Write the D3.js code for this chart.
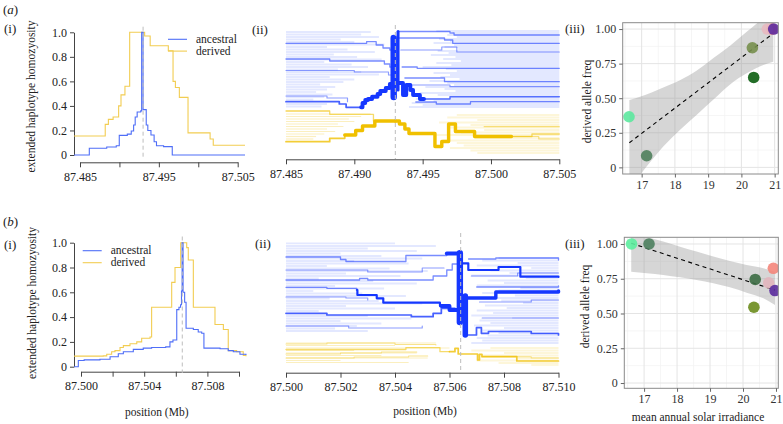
<!DOCTYPE html>
<html><head><meta charset="utf-8">
<script src="https://cdn.jsdelivr.net/npm/d3@7"></script>
<style>
body{margin:0;background:#fff}
svg{display:block}
svg text{font-family:"Liberation Serif","Times New Roman",serif !important}
</style></head><body>
<svg id="c" width="783" height="424"></svg>
<script>
// ================= DATA =================
// (i) EHH curves: [position (Mb), EHH]
const aAncestral = [[87.48424,0],[87.48618,0.055],[87.48839,0.065],[87.48960,0.075],[87.48998,0.16],[87.49100,0.17],[87.49150,0.195],[87.49180,0.245],[87.49200,0.31],[87.49225,0.35],[87.49270,0.36],[87.49282,1.0],[87.49300,0.37],[87.49340,0.245],[87.49360,0.2],[87.49400,0.163],[87.49440,0.108],[87.49470,0.076],[87.49560,0.068],[87.49670,0],[87.50593,0]];
const aDerived = [[87.48424,0.155],[87.48820,0.25],[87.48860,0.29],[87.48920,0.31],[87.48990,0.40],[87.49020,0.49],[87.49070,0.56],[87.49130,1.0],[87.49320,0.97],[87.49390,0.89],[87.49620,0.85],[87.49680,0.60],[87.49710,0.55],[87.49760,0.47],[87.49870,0.18],[87.50150,0.13],[87.50190,0.08],[87.50593,0.08]];
const bAncestral = [[87.49956,0],[87.49983,0.05],[87.50020,0.055],[87.50120,0.06],[87.50184,0.08],[87.50236,0.105],[87.50268,0.12],[87.50331,0.14],[87.50394,0.15],[87.50447,0.155],[87.50536,0.16],[87.50563,0.2],[87.50582,0.215],[87.50606,0.46],[87.50620,0.48],[87.50630,0.5],[87.50636,0.61],[87.50640,1.0],[87.50646,0.6],[87.50656,0.52],[87.50665,0.31],[87.50711,0.3],[87.50742,0.28],[87.50764,0.27],[87.50778,0.15],[87.50880,0.145],[87.50932,0.13],[87.50964,0.12],[87.51006,0.1],[87.51044,0.095]];
const bDerived = [[87.49956,0.085],[87.50141,0.087],[87.50163,0.1],[87.50194,0.12],[87.50215,0.13],[87.50247,0.155],[87.50268,0.17],[87.50310,0.185],[87.50353,0.2],[87.50384,0.23],[87.50437,0.24],[87.50447,0.48],[87.50574,0.68],[87.50595,0.8],[87.50631,1.0],[87.50669,0.96],[87.50679,0.86],[87.50711,0.48],[87.50848,0.34],[87.50901,0.3],[87.50932,0.13],[87.50985,0.12],[87.51027,0.09],[87.51044,0.085]];
const aCore = 87.4930, bCore = 87.50641;
const aTicks = [87.485,87.490,87.495,87.500,87.505];
const aTickLabelsI = ["87.485","","87.495","","87.505"];
const aTickLabelsII = ["87.485","87.490","87.495","87.500","87.505"];
const bTicks = [87.500,87.502,87.504,87.506,87.508,87.510];
const bTickLabelsI = ["87.500","","87.504","","87.508",""];
const bTickLabelsII = ["87.500","87.502","87.504","87.506","87.508","87.510"];
const ehhTicks = [0,0.2,0.4,0.6,0.8,1.0];
const legendLabels = ["ancestral","derived"];

// (ii) bifurcation diagrams: haplotype rank (0 top .. 126 bottom), n = haplotypes in branch
const aBlueFaintLeft = [[2,87.4912],[4.5,87.4905],[7,87.4918],[9.5,87.4890],[12,87.4900],[14.5,87.4922],[17,87.4880],[19.5,87.4895],[22,87.4915],[24.5,87.4885],[27,87.4902],[29.5,87.4920],[32,87.4878],[34.5,87.4898],[37,87.4910],[39.5,87.4888],[42,87.4905],[44.5,87.4918],[47,87.4882],[49.5,87.4900],[52,87.4892],[54.5,87.4875],[57,87.4886],[59.5,87.4880],[62,87.4872],[64.5,87.4884],[67,87.4878],[69.5,87.4870],[74,87.4880],[76.5,87.4876]];
const aBlueFaintRight = [[1,87.4960],[3,87.4972],[5,87.4968],[7,87.4975],[9,87.4962],[11,87.4970],[13,87.4958],[15,87.4973],[17,87.4966],[19,87.4976],[21,87.4961],[23,87.4969],[25,87.4956],[27,87.4974],[29,87.4965],[31,87.4978],[33,87.4960],[35,87.4971],[37,87.4950],[39,87.4967],[41,87.4975],[43,87.4958],[45,87.4970],[47,87.4963],[49,87.4977],[51,87.4955],[53,87.4968],[55,87.4973],[57,87.4952],[59,87.4966],[61,87.4974],[63,87.4948],[65,87.4961],[67,87.4970],[69,87.4945],[71,87.4958],[73,87.4942],[75,87.4950],[77,87.4940]];
const aYellowFaintLeft = [[81,87.4882],[84,87.4912],[86.5,87.4905],[89,87.4896],[91.5,87.4900],[94,87.4888],[96.5,87.4892],[99,87.4880],[101.5,87.4886],[104,87.4878],[106.5,87.4872],[109,87.4870]];
const aYellowFaintRight = [[85,87.4975],[87.5,87.4968],[90,87.4990],[92.5,87.4962],[95,87.4985],[97.5,87.4970],[100,87.4995],[102.5,87.4978],[105,87.4960],[108,87.4988],[110.5,87.4965],[113,87.4975],[115.5,87.4980],[118,87.4970],[120.5,87.4985],[123,87.4990]];
const aBlueBranches = [
 {n:2, pts:[[87.4850,13.3],[87.4909,11.7],[87.4916,15],[87.4921,18],[87.4926,20],[87.4930,20]]},
 {n:2, pts:[[87.4850,29],[87.4882,31],[87.4922,34],[87.4926,37],[87.4930,37]]},
 {n:1.6, pts:[[87.4850,40.5],[87.4900,42],[87.4925,45],[87.4930,45]]},
 {n:3, pts:[[87.4850,71.7],[87.4889,74],[87.4894,77.3],[87.4905,77.3]]},
 {n:1.6, pts:[[87.4850,66],[87.4880,68],[87.4895,71.7]]},
 {n:8, pts:[[87.4905,77.3],[87.4906,73],[87.4908,70],[87.4910,69],[87.4913,66.7],[87.4917,64],[87.4919,61],[87.4923,58],[87.4926,54],[87.4929,50],[87.4930,50]]},
 {n:14, pts:[[87.49288,8],[87.49288,67]]},
 {n:6, pts:[[87.4932,1.5],[87.4932,60]]},
 {n:8, pts:[[87.4932,53],[87.49356,65],[87.4938,55],[87.4941,60],[87.4943,65],[87.4948,69],[87.4951,69]]},
 {n:2.5, pts:[[87.4951,69],[87.4970,66.7],[87.5050,66.7]]},
 {n:2, pts:[[87.4932,1.5],[87.4970,3],[87.4973,5],[87.5050,5]]},
 {n:2, pts:[[87.4933,8],[87.4966,10],[87.4972,13.3],[87.5050,13.3]]},
 {n:1.6, pts:[[87.4934,20],[87.4964,17],[87.4975,22],[87.5050,22]]},
 {n:2, pts:[[87.4935,37],[87.4946,38.3],[87.5050,38.3]]},
 {n:2, pts:[[87.4937,48],[87.4966,51.7],[87.5050,51.7]]},
 {n:1.6, pts:[[87.4940,55],[87.4970,56.7],[87.5050,56.7]]},
 {n:2, pts:[[87.4945,72],[87.4960,74],[87.4985,71.7],[87.5050,71.7]]}
];
const aYellowBranches = [
 {n:2, pts:[[87.4850,81],[87.4882,84.3],[87.4914,91]]},
 {n:3, pts:[[87.4850,111.7],[87.4882,108.3],[87.4893,105]]},
 {n:7, pts:[[87.4893,105],[87.4901,100.5],[87.4906,96],[87.4915,91],[87.4930,91]]},
 {n:7, pts:[[87.4930,91],[87.4933,94],[87.4937,99],[87.4940,103.5],[87.4959,116.5],[87.4964,111.5],[87.4969,94],[87.4974,101.5],[87.4988,106.5],[87.5015,106.5]]},
 {n:2, pts:[[87.5015,106.5],[87.5030,104],[87.5050,104]]},
 {n:1.6, pts:[[87.5015,106.5],[87.5035,109],[87.5050,109]]},
 {n:1.6, pts:[[87.4995,96.7],[87.5050,96.7]]}
];
const bBlueFaintLeft = [[3.3,87.5040],[6,87.5055],[8.5,87.5030],[11,87.5048],[13.5,87.5020],[16,87.5035],[18.5,87.5050],[21,87.5025],[23.5,87.5045],[26,87.5015],[28.5,87.5038],[31,87.5052],[33.5,87.5022],[36,87.5042],[38.5,87.5012],[41,87.5032],[43.5,87.5048],[46,87.5018],[48.5,87.5036],[51,87.5010],[53.5,87.5028],[56,87.5044],[58.5,87.5016],[61,87.5034],[63.5,87.5050],[66,87.5022],[68.5,87.5040],[71,87.5012],[76,87.5030],[78.5,87.5046],[81,87.5020],[83.5,87.5035],[86,87.5026],[88.5,87.5018],[91,87.5030]];
const bBlueFaintRight = [[18,87.5078],[20.5,87.5072],[23,87.5085],[25.5,87.5070],[28,87.5090],[30.5,87.5075],[33,87.5082],[35.5,87.5068],[38,87.5088],[40.5,87.5074],[43,87.5080],[45.5,87.5070],[48,87.5086],[50.5,87.5078],[53,87.5072],[55.5,87.5084],[58,87.5069],[60.5,87.5079],[63,87.5087],[65.5,87.5073],[68,87.5081],[70.5,87.5070],[73,87.5076],[75.5,87.5068],[78,87.5083],[80.5,87.5071],[83,87.5075],[85.5,87.5069],[88,87.5080],[90.5,87.5072],[93,87.5078],[95.5,87.5074],[98,87.5070],[100.5,87.5072],[103,87.5068]];
const bYellowFaintLeft = [[103,87.5055],[105.5,87.5040],[108,87.5060],[110.5,87.5025],[113,87.5048],[115.5,87.5035],[118,87.5052],[120.5,87.5020],[122.5,87.5045]];
const bYellowFaintRight = [[108,87.5075],[110.5,87.5068],[113,87.5080],[115.5,87.5072],[118,87.5085],[120.5,87.5070],[123,87.5078],[125,87.5090]];
const bBlueBranches = [
 {n:2, pts:[[87.5000,17],[87.5020,19.5],[87.5022,21.5],[87.5044,15.5],[87.5059,13.5]]},
 {n:8, pts:[[87.5059,13.5],[87.5064,13.5]]},
 {n:2, pts:[[87.5000,40],[87.5027,38.5],[87.5030,40],[87.5054,36],[87.5059,30],[87.5061,24],[87.5064,24]]},
 {n:2, pts:[[87.5000,47.3],[87.5015,48.3],[87.5026,50]]},
 {n:4, pts:[[87.5026,50],[87.50262,55],[87.50333,58.3],[87.50357,62.7],[87.50565,66],[87.5057,66]]},
 {n:8, pts:[[87.5057,66],[87.5060,70],[87.5064,70]]},
 {n:3, pts:[[87.5000,73.3],[87.5015,75],[87.5046,76.7],[87.5054,73.3],[87.5057,68.3],[87.5062,68.3]]},
 {n:1.6, pts:[[87.5000,30],[87.5030,32],[87.5050,28],[87.5058,28]]},
 {n:1.6, pts:[[87.5000,57],[87.5022,58],[87.5030,60]]},
 {n:1.6, pts:[[87.5000,86],[87.5023,88],[87.5050,86]]},
 {n:14, pts:[[87.50638,13.3],[87.50638,82]]},
 {n:12, pts:[[87.50658,56],[87.50658,95]]},
 {n:4, pts:[[87.5065,23.3],[87.50669,30],[87.5078,27],[87.5086,36.7],[87.5100,37]]},
 {n:7, pts:[[87.5066,58],[87.5077,52],[87.5100,51]]},
 {n:3, pts:[[87.5066,95],[87.50699,87.7],[87.50717,93.3],[87.50743,91.5],[87.5090,93.5],[87.5100,95]]},
 {n:2, pts:[[87.5067,19],[87.5077,18],[87.5100,20]]},
 {n:1.6, pts:[[87.5068,36],[87.5085,33],[87.5100,33]]},
 {n:2, pts:[[87.5070,47],[87.5100,46]]},
 {n:1.6, pts:[[87.5071,62],[87.5090,60],[87.5100,60]]},
 {n:1.6, pts:[[87.5072,78],[87.5100,78]]}
];
const bYellowBranches = [
 {n:2, pts:[[87.5000,109.5],[87.5044,107.7],[87.50565,111.7],[87.5060,111.7]]},
 {n:3, pts:[[87.5060,111.7],[87.5062,108.3],[87.50632,114],[87.50703,120],[87.50710,114.3],[87.50719,116.7],[87.50847,121],[87.5100,121]]},
 {n:1.4, pts:[[87.5000,104],[87.5015,103],[87.5040,104.5],[87.5055,105]]},
 {n:1.4, pts:[[87.5000,114],[87.5020,113],[87.5035,112],[87.5048,112]]},
 {n:1.4, pts:[[87.5000,118],[87.5025,117],[87.5045,116],[87.5052,116]]},
 {n:1.4, pts:[[87.5072,116.7],[87.5090,118],[87.5100,118]]}
];

// (iii) derived allele frequency vs mean annual solar irradiance
const solar = [16.62, 17.15, 20.33, 20.37, 20.92, 20.78, 20.97];
const aFreq = [0.366, 0.084, 0.865, 0.65, 1.0, 1.0, 1.0];
const bFreq = [1.0, 1.0, 0.545, 0.745, 0.825, 0.72, 0.665];
const aColors = ["#5ce89e","#4f7f5c","#778f4c","#0b5d10","#f08a7a","#e8b9c0","#5d2ba0"];
const bColors = ["#5cee9e","#4d7f5e","#6b8c1d","#3c6d44","#f4857a","#e2b5bc","#5a2a9c"];
const aBandX  = [16.63, 16.95, 17.65, 18.15, 18.66, 19.16, 19.66, 20.16, 20.66, 20.96];
const aBandHi = [0.487, 0.51, 0.578, 0.63, 0.70, 0.79, 0.88, 0.98, 1.08, 1.14];
const aBandLo = [-0.15, -0.055, 0.15, 0.27, 0.38, 0.49, 0.60, 0.68, 0.74, 0.763];
const aFit = [[16.63,0.178],[20.96,0.969]];
const bBandX  = [16.61, 17.08, 17.58, 18.09, 18.59, 19.10, 19.60, 20.11, 20.62, 20.97];
const bBandHi = [1.07, 1.05, 1.017, 0.98, 0.945, 0.91, 0.878, 0.849, 0.825, 0.80];
const bBandLo = [0.80, 0.79, 0.777, 0.76, 0.741, 0.717, 0.688, 0.65, 0.609, 0.561];
const bFit = [[16.61,1.005],[20.97,0.668]];
const solarTicks = [17,18,19,20,21];
const solarMinor = [16.5,17.5,18.5,19.5,20.5];
const freqTicks = [0,0.25,0.5,0.75,1];
const freqMinor = [0.125,0.375,0.625,0.875];
const freqLabels = ["0","0.25","0.50","0.75","1.00"];

// ================= DRAWING =================
const SERIF = "Liberation Serif, Times New Roman, serif";
const BLUE_I = "#4f6ef7", GOLD_I = "#f2cd52";
const BLUE = "#1537ff", GOLD = "#f0c000";
const svg = d3.select("#c");

function styleAxis(g, size){
  g.attr("font-family", SERIF).attr("font-size", size);
  g.select(".domain").attr("stroke","#444");
  g.selectAll(".tick line").attr("stroke","#444");
  g.selectAll(".tick text").attr("fill","#222");
}
function text(x,y,s,opts={}){
  const t = svg.append("text").attr("x",x).attr("y",y).text(s)
    .attr("font-family",SERIF).attr("font-size",opts.size||12).attr("fill",opts.fill||"#222")
    .attr("text-anchor",opts.anchor||"start");
  if(opts.rotate) t.attr("transform",`rotate(-90,${x},${y})`);
  if(opts.italic) t.attr("font-style","italic");
  return t;
}
function panelLabel(x,y,letter){
  const t = svg.append("text").attr("x",x).attr("y",y).attr("font-family",SERIF).attr("font-size",13).attr("fill","#222");
  t.append("tspan").text("(");
  t.append("tspan").attr("font-style","italic").text(letter);
  t.append("tspan").text(")");
}

// ---------- (i) panels ----------
function ehhPanel(cfg){
  const x = d3.scaleLinear().domain(cfg.xDom).range(cfg.xRange);
  const y = d3.scaleLinear().domain([0,1]).range(cfg.yRange);
  const gx = svg.append("g").attr("transform",`translate(0,${cfg.axisY})`)
    .call(d3.axisBottom(x).tickValues(cfg.ticks).tickFormat((d,i)=>cfg.labels[i]).tickSize(5).tickPadding(5).tickSizeOuter(0));
  styleAxis(gx, 12);
  const gy = svg.append("g").attr("transform",`translate(${cfg.axisX},0)`)
    .call(d3.axisLeft(y).tickValues(ehhTicks).tickFormat(d=>d===0?"0":d.toFixed(1)).tickSize(4).tickPadding(3).tickSizeOuter(0));
  styleAxis(gy, 12);
  const line = d3.line().x(d=>x(d[0])).y(d=>y(d[1])).curve(d3.curveStepAfter);
  svg.append("path").attr("d",line(cfg.der)).attr("fill","none").attr("stroke",GOLD_I).attr("stroke-width",1.1);
  svg.append("path").attr("d",line(cfg.anc)).attr("fill","none").attr("stroke",BLUE_I).attr("stroke-width",1.1);
  svg.append("line").attr("x1",x(cfg.core)).attr("x2",x(cfg.core)).attr("y1",cfg.dashY[0]).attr("y2",cfg.dashY[1])
    .attr("stroke","#bdbdbd").attr("stroke-width",1).attr("stroke-dasharray","4,3");
  // legend
  [BLUE_I, GOLD_I].forEach((c,i)=>{
    const ly = cfg.legY + i*cfg.legGap;
    svg.append("line").attr("x1",cfg.legX).attr("x2",cfg.legX+19).attr("y1",ly).attr("y2",ly).attr("stroke",c).attr("stroke-width",1.1);
    text(cfg.legX+28, ly+3.5, legendLabels[i], {size:11.5});
  });
}
ehhPanel({xDom:[87.485,87.505], xRange:[80,237.7], yRange:[155,32.3], axisY:162.3, axisX:74,
  ticks:aTicks, labels:aTickLabelsI, anc:aAncestral, der:aDerived, core:aCore, dashY:[26.7,158.5],
  legX:168, legY:39.3, legGap:11.8});
ehhPanel({xDom:[87.500,87.510], xRange:[81,239], yRange:[366.7,242.7], axisY:371.7, axisX:74,
  ticks:bTicks, labels:bTickLabelsI, anc:bAncestral, der:bDerived, core:bCore, dashY:[236.5,373],
  legX:82.7, legY:250.7, legGap:12});

// ---------- (ii) bifurcation panels ----------
const wScale = d3.scaleLinear().domain([1,14]).range([0.9,6.4]);
const oScale = d3.scaleLinear().domain([1.4,4]).range([0.45,1]).clamp(true);
function bifPanel(cfg){
  const x = d3.scaleLinear().domain(cfg.xDom).range(cfg.xRange);
  const y = d3.scaleLinear().domain([0,126]).range(cfg.yRange);
  const g = svg.append("g");
  const faint = (arr, side, color, op, w) => {
    g.selectAll(null).data(arr).join("line")
      .attr("x1", d=> side==="L" ? x(cfg.xDom[0]) : x(d[1]))
      .attr("x2", d=> side==="L" ? x(d[1]) : x(cfg.xDom[1]))
      .attr("y1", d=>y(d[0])).attr("y2", d=>y(d[0]))
      .attr("stroke",color).attr("stroke-width",w).attr("stroke-opacity",op);
  };
  faint(cfg.blueFL,"L","#3a5cff",0.14,1.8);
  faint(cfg.blueFR,"R","#3a5cff",0.14,1.8);
  faint(cfg.yelFL,"L",GOLD,0.25,1.2);
  faint(cfg.yelFR,"R",GOLD,0.15,1.8);
  const line = d3.line().x(d=>x(d[0])).y(d=>y(d[1])).curve(d3.curveStepAfter);
  const draw = (arr, color) => {
    const sorted = arr.slice().sort((a,b)=>a.n-b.n);
    g.selectAll(null).data(sorted).join("path")
      .attr("d", d=>line(d.pts)).attr("fill","none").attr("stroke",color)
      .attr("stroke-width", d=>wScale(d.n)).attr("stroke-opacity", d=>oScale(d.n))
      .attr("stroke-linecap","round").attr("stroke-linejoin","round");
  };
  draw(cfg.yelB, GOLD);
  draw(cfg.blueB, BLUE);
  svg.append("line").attr("x1",x(cfg.core)).attr("x2",x(cfg.core)).attr("y1",cfg.dashY[0]).attr("y2",cfg.dashY[1])
    .attr("stroke","#bdbdbd").attr("stroke-width",1).attr("stroke-dasharray","4,3");
  const gx = svg.append("g").attr("transform",`translate(0,${cfg.axisY})`)
    .call(d3.axisBottom(x).tickValues(cfg.ticks).tickFormat((d,i)=>cfg.labels[i]).tickSize(5).tickPadding(5).tickSizeOuter(0));
  styleAxis(gx, 12);
}
bifPanel({xDom:[87.485,87.505], xRange:[286,559.3], yRange:[30,156], axisY:159.3, core:aCore, dashY:[25,159],
  ticks:aTicks, labels:aTickLabelsII, blueFL:aBlueFaintLeft, blueFR:aBlueFaintRight, yelFL:aYellowFaintLeft, yelFR:aYellowFaintRight,
  blueB:aBlueBranches, yelB:aYellowBranches});
bifPanel({xDom:[87.500,87.510], xRange:[286,558.5], yRange:[240,366], axisY:372.7, core:bCore, dashY:[233,373],
  ticks:bTicks, labels:bTickLabelsII, blueFL:bBlueFaintLeft, blueFR:bBlueFaintRight, yelFL:bYellowFaintLeft, yelFR:bYellowFaintRight,
  blueB:bBlueBranches, yelB:bYellowBranches});

// ---------- (iii) scatter panels ----------
let clipId = 0;
function scatterPanel(cfg){
  const x = d3.scaleLinear().domain(cfg.xDom).range([cfg.left,cfg.right]);
  const y = d3.scaleLinear().domain(cfg.yDom).range([cfg.bottom,cfg.top]);
  const id = "clip"+(clipId++);
  svg.append("clipPath").attr("id",id).append("rect")
    .attr("x",cfg.left).attr("y",cfg.top).attr("width",cfg.right-cfg.left).attr("height",cfg.bottom-cfg.top);
  const g = svg.append("g").attr("clip-path",`url(#${id})`);
  g.append("rect").attr("x",cfg.left).attr("y",cfg.top).attr("width",cfg.right-cfg.left).attr("height",cfg.bottom-cfg.top).attr("fill","#fff");
  solarMinor.forEach(v=>g.append("line").attr("x1",x(v)).attr("x2",x(v)).attr("y1",cfg.top).attr("y2",cfg.bottom).attr("stroke","#f0f0f0").attr("stroke-width",0.7));
  freqMinor.forEach(v=>g.append("line").attr("y1",y(v)).attr("y2",y(v)).attr("x1",cfg.left).attr("x2",cfg.right).attr("stroke","#f0f0f0").attr("stroke-width",0.7));
  solarTicks.forEach(v=>g.append("line").attr("x1",x(v)).attr("x2",x(v)).attr("y1",cfg.top).attr("y2",cfg.bottom).attr("stroke","#e4e4e4").attr("stroke-width",1));
  freqTicks.forEach(v=>g.append("line").attr("y1",y(v)).attr("y2",y(v)).attr("x1",cfg.left).attr("x2",cfg.right).attr("stroke","#e4e4e4").attr("stroke-width",1));
  const band = cfg.bandX.map((bx,i)=>[bx,cfg.bandLo[i],cfg.bandHi[i]]);
  g.append("path").attr("d", d3.area().x(d=>x(d[0])).y0(d=>y(d[1])).y1(d=>y(d[2])).curve(d3.curveMonotoneX)(band))
    .attr("fill","#999").attr("fill-opacity",0.4);
  g.append("path").attr("d", d3.line().x(d=>x(d[0])).y(d=>y(d[1]))(cfg.fit))
    .attr("stroke","#000").attr("stroke-width",1.1).attr("stroke-dasharray","4,3.5").attr("fill","none");
  g.selectAll(null).data(solar.map((s,i)=>[s,cfg.freq[i],cfg.colors[i]])).join("circle")
    .attr("cx",d=>x(d[0])).attr("cy",d=>y(d[1])).attr("r",5.8).attr("fill",d=>d[2]).attr("fill-opacity",0.9);
  svg.append("rect").attr("x",cfg.left).attr("y",cfg.top).attr("width",cfg.right-cfg.left).attr("height",cfg.bottom-cfg.top)
    .attr("fill","none").attr("stroke","#8a8a8a").attr("stroke-width",1);
  const gx = svg.append("g").attr("transform",`translate(0,${cfg.bottom})`)
    .call(d3.axisBottom(x).tickValues(solarTicks).tickFormat(d3.format("d")).tickSize(3.5).tickPadding(3).tickSizeOuter(0));
  styleAxis(gx, 12); gx.select(".domain").remove();
  const gy = svg.append("g").attr("transform",`translate(${cfg.left},0)`)
    .call(d3.axisLeft(y).tickValues(freqTicks).tickFormat((d,i)=>freqLabels[i]).tickSize(3.5).tickPadding(3).tickSizeOuter(0));
  styleAxis(gy, 12); gy.select(".domain").remove();
  gx.selectAll(".tick line").attr("stroke","#666"); gy.selectAll(".tick line").attr("stroke","#666");
  gx.selectAll(".tick text").attr("fill","#333"); gy.selectAll(".tick text").attr("fill","#333");
}
scatterPanel({xDom:[16.43,21.11], yDom:[-0.048,1.046], left:622.7, right:778.3, top:22.7, bottom:174,
  freq:aFreq, colors:aColors, bandX:aBandX, bandLo:aBandLo, bandHi:aBandHi, fit:aFit});
scatterPanel({xDom:[16.40,21.07], yDom:[-0.038,1.048], left:624.3, right:778.3, top:237.3, bottom:388.3,
  freq:bFreq, colors:bColors, bandX:bBandX, bandLo:bBandLo, bandHi:bBandHi, fit:bFit});

// ---------- texts ----------
panelLabel(3,14,"a");
panelLabel(3,226,"b");
text(4,33,"(i)",{size:13});
text(252,34,"(ii)",{size:13});
text(565,33,"(iii)",{size:13});
text(4,249,"(i)",{size:13});
text(255,248,"(ii)",{size:13});
text(565,248,"(iii)",{size:13});
text(35,96.5,"extended haplotype homozyosity",{size:11.5,anchor:"middle",rotate:true});
text(36,303,"extended haplotype homozyosity",{size:11.5,anchor:"middle",rotate:true});
text(590.5,101.5,"derived allele freq",{size:11.5,anchor:"middle",rotate:true});
text(589,306.5,"derived allele freq",{size:11.5,anchor:"middle",rotate:true});
text(156.7,416,"position (Mb)",{size:11.5,anchor:"middle"});
text(425,415,"position (Mb)",{size:11.5,anchor:"middle"});
text(698,420.5,"mean annual solar irradiance",{size:11.5,anchor:"middle"});
</script></body></html>
